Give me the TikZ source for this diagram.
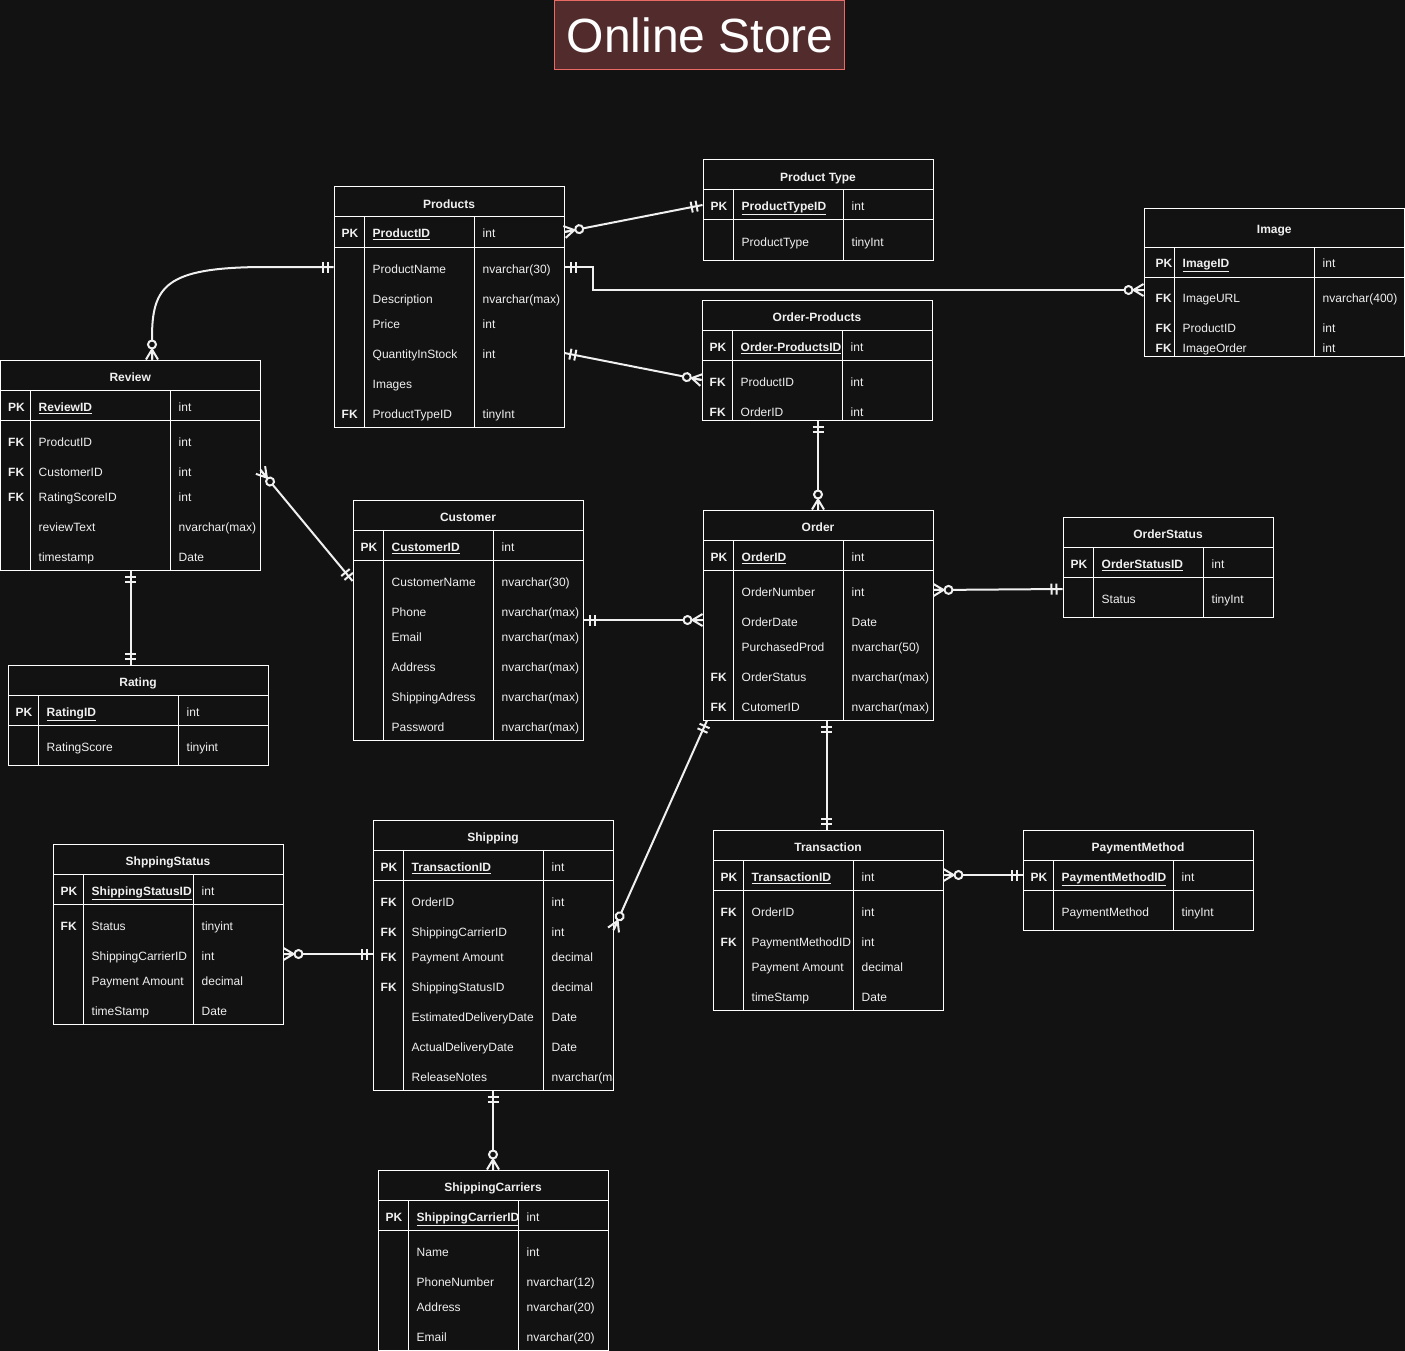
\documentclass[tikz,border=0pt]{standalone}
\usepackage{fontspec}
\setmainfont{Liberation Sans}
\usetikzlibrary{decorations.markings,fit}
\definecolor{bg}{HTML}{121212}
\definecolor{fg}{HTML}{F0F0F0}
\definecolor{titlefill}{HTML}{522C2C}
\definecolor{titleline}{HTML}{EA6B66}
\newcommand\pkf[1]{\textbf{\underline{#1}}}
\newcommand\ertable[9]{%
  \node[tblbox, fit={(#2,#3)(#4,#5)}] (#1) {};
  \draw[tblline] (#2,#6) -- (#4,#6) (#2,#7) -- (#4,#7) (#8,#6) -- (#8,#5) (#9,#6) -- (#9,#5);
  \gdef\tn{#1}\gdef\tx{#2}\gdef\txr{#4}\gdef\tc{#8}\gdef\td{#9}\gdef\tkoff{7.5}}
\newcommand\erhead[2]{\node[hdrtxt] (\tn-h) at ({(\tx+\txr)/2},#1+5.2) {#2};}
\newcommand\errow[5]{%
  \node[keytxt] (\tn-#1k) at (\tx+\tkoff,#2+5.2) {#3};
  \node[fldtxt] (\tn-#1f) at (\tc+8.5,#2+5.2) {#4};
  \node[fldtxt] (\tn-#1t) at (\td+8.5,#2+5.2) {#5};}
\tikzset{
  tblbox/.style={draw=white, line width=1pt, inner sep=0pt, fill=bg},
  tblline/.style={draw=white, line width=1pt},
  txt/.style={text=fg, inner sep=0pt, font=\fontsize{12}{14}\selectfont},
  keytxt/.style={txt, anchor=base west, font=\fontsize{12}{14}\selectfont\bfseries},
  fldtxt/.style={txt, anchor=base west},
  hdrtxt/.style={txt, anchor=base, font=\fontsize{12}{14}\selectfont\bfseries},
  titlebox/.style={draw=titleline, line width=1pt, fill=titlefill, text=white, minimum width=290pt, minimum height=69pt, inner sep=0pt, font=\fontsize{48}{56}\selectfont},
  conn/.style={draw=fg, line width=2pt},
  mkline/.style={draw=fg, line width=2pt},
  mone start/.style={postaction={decorate,decoration={markings,mark=at position 0 with {\draw[mkline] (6pt,-5.5pt)--(6pt,5.5pt) (11pt,-5.5pt)--(11pt,5.5pt);}}}},
  mone end/.style={postaction={decorate,decoration={markings,mark=at position 1 with {\draw[mkline] (-6pt,-5.5pt)--(-6pt,5.5pt) (-11pt,-5.5pt)--(-11pt,5.5pt);}}}},
  zmany start/.style={postaction={decorate,decoration={markings,mark=at position 0 with {\draw[mkline] (0pt,-6pt)--(10pt,0pt)--(0pt,6pt) (0pt,0pt)--(10pt,0pt); \draw[mkline,fill=bg] (15pt,0pt) circle (4pt);}}}},
  zmany end/.style={postaction={decorate,decoration={markings,mark=at position 1 with {\draw[mkline] (0pt,-6pt)--(-10pt,0pt)--(0pt,6pt) (0pt,0pt)--(-10pt,0pt); \draw[mkline,fill=bg] (-15pt,0pt) circle (4pt);}}}},
}
\begin{document}
\begin{tikzpicture}[x=1pt,y=-1pt]
\useasboundingbox (0,0) rectangle (1405,1351);
\fill[bg] (0,0) rectangle (1405,1351);

\node[titlebox] (title) at (699.3,35.3) {\hspace*{2pt}Online Store};

% Product Type
\ertable{ptype}{703}{160}{933}{260}{190}{220}{733}{843}
\erhead{176}{Product Type}
\errow{1}{205}{PK}{\pkf{ProductTypeID}}{int}
\errow{2}{241}{}{ProductType}{tinyInt}

% Products
\ertable{products}{334}{187}{564}{427}{217}{247}{364}{474}
\erhead{203}{Products}
\errow{1}{232}{PK}{\pkf{ProductID}}{int}
\errow{2}{268}{}{ProductName}{nvarchar(30)}
\errow{3}{298}{}{Description}{nvarchar(max)}
\errow{4}{323}{}{Price}{int}
\errow{5}{353}{}{QuantityInStock}{int}
\errow{6}{383}{}{Images}{}
\errow{7}{413}{FK}{ProductTypeID}{tinyInt}

% Image
\ertable{image}{1144}{209}{1404.5}{356}{247}{277}{1174}{1314}
\gdef\tkoff{11.5}
\erhead{228}{Image}
\errow{1}{262}{PK}{\pkf{ImageID}}{int}
\errow{2}{297}{FK}{ImageURL}{nvarchar(400)}
\errow{3}{327}{FK}{ProductID}{int}
\errow{4}{347}{FK}{ImageOrder}{int}

% Order-Products
\ertable{op}{702}{300}{932}{420}{330}{360}{732}{842}
\erhead{316}{Order-Products}
\errow{1}{346}{PK}{\pkf{Order-ProductsID}}{int}
\errow{2}{381}{FK}{ProductID}{int}
\errow{3}{411}{FK}{OrderID}{int}

% Review
\ertable{review}{0.5}{360}{260}{570}{390}{420}{30}{170}
\erhead{376}{Review}
\errow{1}{406}{PK}{\pkf{ReviewID}}{int}
\errow{2}{441}{FK}{ProdcutID}{int}
\errow{3}{471}{FK}{CustomerID}{int}
\errow{4}{496}{FK}{RatingScoreID}{int}
\errow{5}{526}{}{reviewText}{nvarchar(max)}
\errow{6}{556}{}{timestamp}{Date}

% Rating
\ertable{rating}{8}{665}{268}{765}{695}{725}{38}{178}
\erhead{681}{Rating}
\errow{1}{711}{PK}{\pkf{RatingID}}{int}
\errow{2}{746}{}{RatingScore}{tinyint}

% Customer
\ertable{customer}{353}{500}{583}{740}{530}{560}{383}{493}
\erhead{516}{Customer}
\errow{1}{546}{PK}{\pkf{CustomerID}}{int}
\errow{2}{581}{}{CustomerName}{nvarchar(30)}
\errow{3}{611}{}{Phone}{nvarchar(max)}
\errow{4}{636}{}{Email}{nvarchar(max)}
\errow{5}{666}{}{Address}{nvarchar(max)}
\errow{6}{696}{}{ShippingAdress}{nvarchar(max)}
\errow{7}{726}{}{Password}{nvarchar(max)}

% Order
\ertable{order}{703}{510}{933}{720}{540}{570}{733}{843}
\erhead{526}{Order}
\errow{1}{556}{PK}{\pkf{OrderID}}{int}
\errow{2}{591}{}{OrderNumber}{int}
\errow{3}{621}{}{OrderDate}{Date}
\errow{4}{646}{}{PurchasedProd}{nvarchar(50)}
\errow{5}{676}{FK}{OrderStatus}{nvarchar(max)}
\errow{6}{706}{FK}{CutomerID}{nvarchar(max)}

% OrderStatus
\ertable{ostatus}{1063}{517}{1273}{617}{547}{577}{1093}{1203}
\erhead{533}{OrderStatus}
\errow{1}{563}{PK}{\pkf{OrderStatusID}}{int}
\errow{2}{598}{}{Status}{tinyInt}

% ShppingStatus
\ertable{sstatus}{53}{844}{283}{1024}{874}{904}{83}{193}
\erhead{860}{ShppingStatus}
\errow{1}{890}{PK}{\pkf{ShippingStatusID}}{int}
\errow{2}{925}{FK}{Status}{tinyint}
\errow{3}{955}{}{ShippingCarrierID}{int}
\errow{4}{980}{}{Payment Amount}{decimal}
\errow{5}{1010}{}{timeStamp}{Date}

% Shipping
\ertable{shipping}{373}{820}{613}{1090}{850}{880}{403}{543}
\erhead{836}{Shipping}
\errow{1}{866}{PK}{\pkf{TransactionID}}{int}
\errow{2}{901}{FK}{OrderID}{int}
\errow{3}{931}{FK}{ShippingCarrierID}{int}
\errow{4}{956}{FK}{Payment Amount}{decimal}
\errow{5}{986}{FK}{ShippingStatusID}{decimal}
\errow{6}{1016}{}{EstimatedDeliveryDate}{Date}
\errow{7}{1046}{}{ActualDeliveryDate}{Date}
\errow{8}{1076}{}{ReleaseNotes}{}
\begin{scope}
\clip (544,1061) rectangle (612.4,1089);
\node[fldtxt] (shipping-8c) at (551.5,1081.2) {nvarchar(max)};
\end{scope}

% Transaction
\ertable{trans}{713}{830}{943}{1010}{860}{890}{743}{853}
\erhead{846}{Transaction}
\errow{1}{876}{PK}{\pkf{TransactionID}}{int}
\errow{2}{911}{FK}{OrderID}{int}
\errow{3}{941}{FK}{PaymentMethodID}{int}
\errow{4}{966}{}{Payment Amount}{decimal}
\errow{5}{996}{}{timeStamp}{Date}

% PaymentMethod
\ertable{pay}{1023}{830}{1253}{930}{860}{890}{1053}{1173}
\erhead{846}{PaymentMethod}
\errow{1}{876}{PK}{\pkf{PaymentMethodID}}{int}
\errow{2}{911}{}{PaymentMethod}{tinyInt}

% ShippingCarriers
\ertable{carriers}{378}{1170}{608}{1350}{1200}{1230}{408}{518}
\erhead{1186}{ShippingCarriers}
\errow{1}{1216}{PK}{\pkf{ShippingCarrierID}}{int}
\errow{2}{1251}{}{Name}{int}
\errow{3}{1281}{}{PhoneNumber}{nvarchar(12)}
\errow{4}{1306}{}{Address}{nvarchar(20)}
\errow{5}{1336}{}{Email}{nvarchar(20)}

% connectors
\draw[conn, zmany start, mone end] (products.east |- 0,232) -- (ptype.west |- 0,205);
\draw[conn, mone start, zmany end] (products.east |- 0,267) -| (593,290) -- (image.west |- 0,290);
\draw[conn, mone start, zmany end] (products.east |- 0,353) -- (op.west |- 0,380);
\draw[conn, mone start, zmany end] (products.west |- 0,267) -- (260,267) .. controls (166,268) and (152,286) .. (152,338) -- (review.north -| 152,0);
\draw[conn, zmany start, mone end] (review.east |- 0,470) -- (customer.west |- 0,581);
\draw[conn, mone start, mone end] (review.south -| 130.5,0) -- (rating.north -| 130.5,0);
\draw[conn, mone start, zmany end] (op.south -| 818,0) -- (order.north -| 818,0);
\draw[conn, mone start, zmany end] (customer.east |- 0,620) -- (order.west |- 0,620);
\draw[conn, zmany start, mone end] (order.east |- 0,590) -- (ostatus.west |- 0,589);
\draw[conn, mone start, zmany end] (order.south -| 707,0) -- (shipping.east |- 0,930);
\draw[conn, mone start, mone end] (order.south -| 826.5,0) -- (trans.north -| 826.5,0);
\draw[conn, zmany start, mone end] (trans.east |- 0,875) -- (pay.west |- 0,875);
\draw[conn, zmany start, mone end] (sstatus.east |- 0,954) -- (shipping.west |- 0,954);
\draw[conn, mone start, zmany end] (shipping.south -| 493,0) -- (carriers.north -| 493,0);
\end{tikzpicture}
\end{document}
